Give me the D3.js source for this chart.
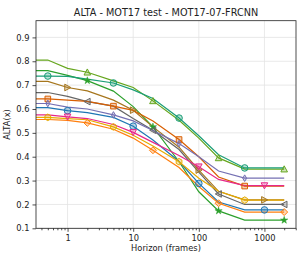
<!DOCTYPE html>
<html lang="en">
<head>
  <meta charset="utf-8">
  <title>ALTA - MOT17-07-FRCNN</title>
  <script src="https://d3js.org/d3.v7.min.js"></script>
  <style>
    body { margin: 0; background: #fff; }
    text { font-family: "DejaVu Sans", sans-serif; fill: #222; }
  </style>
</head>
<body>
  <div id="chart"></div>
  <script>
    // horizons (frames); the first point sits left of the visible range
    var horizons = [0.25, 0.5, 1, 2, 5, 10, 20, 50, 100, 200, 500, 1000, 2000];

    var lightGreen = [0.805, 0.805, 0.770, 0.754, 0.718, 0.690, 0.634, 0.553, 0.478, 0.395, 0.348, 0.348, 0.348];
    var green      = [0.761, 0.761, 0.741, 0.719, 0.675, 0.610, 0.525, 0.379, 0.253, 0.173, 0.134, 0.134, 0.134];
    var teal       = [0.738, 0.738, 0.737, 0.725, 0.709, 0.680, 0.644, 0.562, 0.488, 0.408, 0.353, 0.353, 0.353];
    var brown      = [0.716, 0.716, 0.690, 0.676, 0.637, 0.595, 0.525, 0.440, 0.344, 0.255, 0.219, 0.219, 0.219];
    var gray       = [0.669, 0.669, 0.653, 0.631, 0.612, 0.560, 0.511, 0.430, 0.335, 0.244, 0.200, 0.200, 0.200];
    var vermilion  = [0.642, 0.642, 0.637, 0.632, 0.612, 0.594, 0.550, 0.472, 0.400, 0.315, 0.277, 0.277, 0.277];
    var purple     = [0.623, 0.623, 0.608, 0.600, 0.575, 0.550, 0.510, 0.455, 0.400, 0.340, 0.310, 0.310, 0.310];
    var blue       = [0.606, 0.606, 0.593, 0.585, 0.565, 0.528, 0.470, 0.380, 0.288, 0.210, 0.177, 0.177, 0.177];
    var pink       = [0.575, 0.575, 0.567, 0.560, 0.535, 0.502, 0.460, 0.405, 0.358, 0.305, 0.279, 0.279, 0.279];
    var gold       = [0.565, 0.565, 0.560, 0.555, 0.525, 0.490, 0.445, 0.379, 0.310, 0.255, 0.218, 0.218, 0.218];
    var orange     = [0.556, 0.556, 0.552, 0.542, 0.515, 0.478, 0.427, 0.355, 0.275, 0.205, 0.168, 0.168, 0.168];

    var xTicks = [1, 10, 100, 1000];
    var yTicks = [0.1, 0.2, 0.3, 0.4, 0.5, 0.6, 0.7, 0.8, 0.9];

    var series = [
      {name: 'lightGreen', values: lightGreen, color: '#66a61e', marker: '^', offset: 2},
      {name: 'green',      values: green,      color: '#2ca02c', marker: '*', offset: 2},
      {name: 'teal',       values: teal,       color: '#1b9e77', marker: 'o', offset: 0},
      {name: 'brown',      values: brown,      color: '#a6761d', marker: '>', offset: 1},
      {name: 'gray',       values: gray,       color: '#666666', marker: '<', offset: 2},
      {name: 'vermilion',  values: vermilion,  color: '#d95f02', marker: 's', offset: 0},
      {name: 'purple',     values: purple,     color: '#7570b3', marker: 'd', offset: 0},
      {name: 'blue',       values: blue,       color: '#1f77b4', marker: 'o', offset: 1},
      {name: 'pink',       values: pink,       color: '#e7298a', marker: 'v', offset: 1},
      {name: 'gold',       values: gold,       color: '#e6ab02', marker: 'h', offset: 0},
      {name: 'orange',     values: orange,     color: '#ff7f0e', marker: 'D', offset: 2}
    ];

    var w = 305, h = 261;
    var margin = {top: 20.7, right: 9, bottom: 32.7, left: 36};
    var innerW = w - margin.left - margin.right,
        innerH = h - margin.top - margin.bottom;

    var svg = d3.select('#chart').append('svg')
        .attr('width', w)
        .attr('height', h);

    var x = d3.scaleLog()
      .domain([Math.pow(10, -0.481), Math.pow(10, 3.481)])
      .range([0, innerW]);
    var y = d3.scaleLinear()
      .domain([0.1, 0.97])
      .range([innerH, 0]);

    svg.append('defs').append('clipPath').attr('id', 'clip')
      .append('rect').attr('width', innerW).attr('height', innerH);

    var g = svg.append('g')
      .attr('transform', 'translate(' + [margin.left, margin.top] + ')');

    // grid
    g.append('g').selectAll('line').data(xTicks).enter().append('line')
      .attr('x1', function(d){return x(d);}).attr('x2', function(d){return x(d);})
      .attr('y1', 0).attr('y2', innerH)
      .attr('stroke', '#e3e3e3').attr('stroke-width', 0.8);
    g.append('g').selectAll('line').data(yTicks).enter().append('line')
      .attr('y1', function(d){return y(d);}).attr('y2', function(d){return y(d);})
      .attr('x1', 0).attr('x2', innerW)
      .attr('stroke', '#e3e3e3').attr('stroke-width', 0.8);

    // axes
    var minorTicks = [];
    [0.1, 1, 10, 100, 1000].forEach(function(b) {
      for (var k = 2; k <= 9; k++) minorTicks.push(b * k);
    });
    minorTicks = minorTicks.filter(function(v){ return x(v) >= 0 && x(v) <= innerW; });

    g.append('g').attr('transform', 'translate(0,' + innerH + ')')
      .call(d3.axisBottom(x).tickValues(xTicks).tickFormat(d3.format('d')).tickSize(3.5).tickPadding(3));
    g.append('g').attr('transform', 'translate(0,' + innerH + ')')
      .call(d3.axisBottom(x).tickValues(minorTicks).tickFormat('').tickSize(2))
      .select('.domain').remove();
    g.append('g')
      .call(d3.axisLeft(y).tickValues(yTicks).tickFormat(d3.format('.1f')).tickSize(3.5).tickPadding(3));

    g.selectAll('.tick text').attr('font-size', 8.3).attr('font-family', 'DejaVu Sans').attr('fill', '#222');
    g.selectAll('.tick line').attr('stroke', '#222').attr('stroke-width', 0.8);
    g.selectAll('.domain').remove();

    // lines
    var line = d3.line()
      .x(function(d){return x(d.h);})
      .y(function(d){return y(d.v);});

    var plot = g.append('g').attr('clip-path', 'url(#clip)');

    function markerPath(m, r) {
      var p;
      if (m === 'o') return d3.symbol().type(d3.symbolCircle).size(Math.PI * r * r)();
      if (m === '*') return d3.symbol().type(d3.symbolStar).size(r * r * 1.5)();
      if (m === '^') p = [[0, -r], [r, r * 0.85], [-r, r * 0.85]];
      if (m === 'v') p = [[0, r], [r, -r * 0.85], [-r, -r * 0.85]];
      if (m === '>') p = [[r, 0], [-r * 0.85, r], [-r * 0.85, -r]];
      if (m === '<') p = [[-r, 0], [r * 0.85, r], [r * 0.85, -r]];
      if (m === 's') p = [[-r * 0.85, -r * 0.85], [r * 0.85, -r * 0.85], [r * 0.85, r * 0.85], [-r * 0.85, r * 0.85]];
      if (m === 'd') p = [[0, -r], [r * 0.6, 0], [0, r], [-r * 0.6, 0]];
      if (m === 'D') p = [[0, -r * 1.05], [r * 1.05, 0], [0, r * 1.05], [-r * 1.05, 0]];
      if (m === 'h') {
        p = d3.range(6).map(function(i) {
          var a = Math.PI / 3 * i;
          return [r * Math.sin(a), -r * Math.cos(a)];
        });
      }
      return 'M' + p.join('L') + 'Z';
    }

    series.forEach(function(s) {
      var pts = horizons.map(function(hz, i){ return {h: hz, v: s.values[i], i: i}; });
      plot.append('path')
        .datum(pts)
        .attr('fill', 'none')
        .attr('stroke', s.color)
        .attr('stroke-width', 1.2)
        .attr('d', line);
    });

    series.forEach(function(s) {
      var pts = horizons.map(function(hz, i){ return {h: hz, v: s.values[i], i: i}; })
        .filter(function(d){ return d.i >= 1 && (d.i - 1 - s.offset) % 3 === 0 && d.i - 1 >= s.offset; });
      plot.selectAll(null).data(pts).enter().append('path')
        .attr('transform', function(d){ return 'translate(' + [x(d.h), y(d.v)] + ')'; })
        .attr('d', markerPath(s.marker, 3.3))
        .attr('fill', s.color)
        .attr('fill-opacity', s.marker === '*' ? 1 : 0.3)
        .attr('stroke', s.color)
        .attr('stroke-width', s.marker === '*' ? 0.5 : 1);
    });

    // frame
    g.append('rect')
      .attr('width', innerW).attr('height', innerH)
      .attr('fill', 'none').attr('stroke', '#222').attr('stroke-width', 0.8);

    // labels
    svg.append('text')
      .attr('x', margin.left + innerW / 2).attr('y', 16)
      .attr('text-anchor', 'middle').attr('font-size', 9.7)
      .text('ALTA - MOT17 test - MOT17-07-FRCNN');
    svg.append('text')
      .attr('x', margin.left + innerW / 2).attr('y', 251)
      .attr('text-anchor', 'middle').attr('font-size', 8.3)
      .text('Horizon (frames)');
    svg.append('text')
      .attr('transform', 'translate(10,' + (margin.top + innerH / 2) + ') rotate(-90)')
      .attr('text-anchor', 'middle').attr('font-size', 8.3)
      .text('ALTA(x)');
  </script>
</body>
</html>
